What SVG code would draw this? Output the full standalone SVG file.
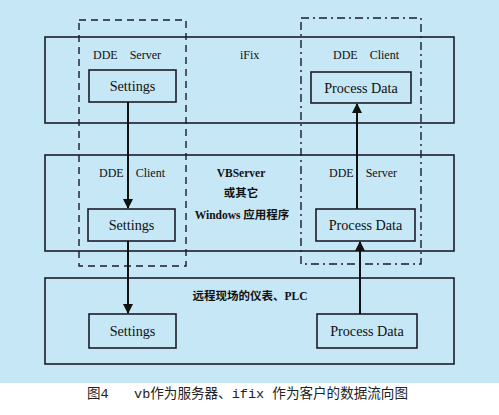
<svg xmlns="http://www.w3.org/2000/svg" width="499" height="415" viewBox="0 0 499 415">
<style>
.layer{fill:none;stroke:#1c1c28;stroke-width:1.6}
.box{fill:none;stroke:#1c1c28;stroke-width:1.6}
.dash{fill:none;stroke:#1c1c28;stroke-width:1.4;stroke-dasharray:7,5}
.dashdot{fill:none;stroke:#1c1c28;stroke-width:1.4;stroke-dasharray:8,4,2,4}
.t{font-family:"Liberation Serif","Times New Roman",serif;font-size:12px;fill:#111}
.tb{font-family:"Liberation Serif","Times New Roman",serif;font-size:14.2px;fill:#111}
.cn{font-family:"Liberation Serif","Noto Sans CJK SC",serif;font-size:11.5px;font-weight:bold;fill:#111}
.cap{font-family:"Liberation Mono","Noto Sans CJK SC",monospace;font-size:13.5px;fill:#222}
.arr{stroke:#111;stroke-width:2;fill:none}
</style>
<defs>
<marker id="ah" markerWidth="10" markerHeight="10" refX="9" refY="5" orient="auto" markerUnits="userSpaceOnUse">
<path d="M0,0 L10,5 L0,10 Z" fill="#111"/>
</marker>
</defs>
<rect x="0" y="0" width="499" height="383" fill="#c6e7f6"/>
<rect x="0" y="383" width="499" height="32" fill="#ffffff"/>

<g id="layer-ifix">
<rect class="layer" x="45" y="37" width="409" height="86"/>
<text class="t" x="240" y="59">iFix</text>
</g>
<g id="layer-vbserver">
<rect class="layer" x="45" y="155" width="409" height="96"/>
<text class="cn" x="241" y="177" text-anchor="middle">VBServer</text>
<text class="cn" x="241" y="197" text-anchor="middle">或其它</text>
<text class="cn" x="242" y="219" text-anchor="middle">Windows 应用程序</text>
</g>
<g id="layer-plc">
<rect class="layer" x="45" y="278" width="409" height="86"/>
<text class="cn" x="250" y="300" text-anchor="middle">远程现场的仪表、PLC</text>
</g>

<g id="group-left">
<rect class="dash" x="79" y="20" width="107" height="246"/>
</g>
<g id="group-right">
<rect class="dashdot" x="301" y="18" width="120" height="246"/>
</g>

<g id="label-dde-server-1"><text class="t" x="93" y="59" xml:space="preserve">DDE    Server</text></g>
<g id="label-dde-client-1"><text class="t" x="333" y="59" xml:space="preserve">DDE    Client</text></g>
<g id="label-dde-client-2"><text class="t" x="99" y="177" xml:space="preserve">DDE    Client</text></g>
<g id="label-dde-server-2"><text class="t" x="329" y="177" xml:space="preserve">DDE    Server</text></g>

<g id="settings-1">
<rect class="box" x="89" y="70" width="87" height="32"/>
<text class="tb" x="132.5" y="91" text-anchor="middle">Settings</text>
</g>
<g id="processdata-1">
<rect class="box" x="311" y="72" width="100" height="31"/>
<text class="tb" x="361" y="93" text-anchor="middle">Process Data</text>
</g>
<g id="settings-2">
<rect class="box" x="88" y="209" width="87" height="32"/>
<text class="tb" x="131.5" y="230" text-anchor="middle">Settings</text>
</g>
<g id="processdata-2">
<rect class="box" x="316" y="209" width="99" height="32"/>
<text class="tb" x="365.5" y="230" text-anchor="middle">Process Data</text>
</g>
<g id="settings-3">
<rect class="box" x="89" y="314" width="87" height="34"/>
<text class="tb" x="132.5" y="336" text-anchor="middle">Settings</text>
</g>
<g id="processdata-3">
<rect class="box" x="317" y="314" width="100" height="34"/>
<text class="tb" x="367" y="336" text-anchor="middle">Process Data</text>
</g>

<g id="connectors">
<line class="arr" x1="128" y1="102" x2="128" y2="208" marker-end="url(#ah)"/>
<line class="arr" x1="128" y1="241" x2="128" y2="313" marker-end="url(#ah)"/>
<line class="arr" x1="357" y1="209" x2="357" y2="104" marker-end="url(#ah)"/>
<line class="arr" x1="360" y1="314" x2="360" y2="242" marker-end="url(#ah)"/>
</g>

<text class="cap" x="87" y="398">图4</text>
<text class="cap" x="134" y="398" textLength="274" lengthAdjust="spacingAndGlyphs">vb作为服务器、ifix 作为客户的数据流向图</text>
</svg>
